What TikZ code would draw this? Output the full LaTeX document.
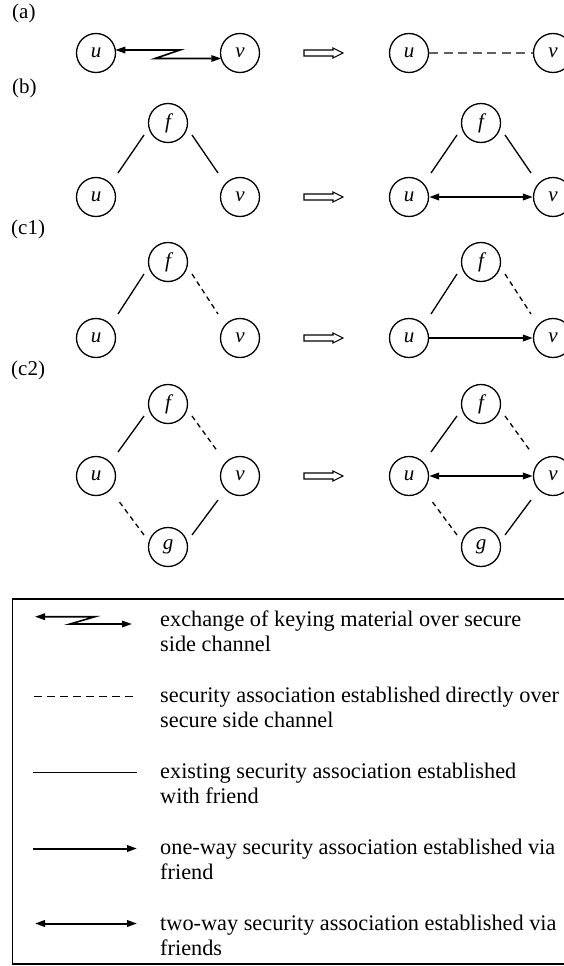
\documentclass[tikz,border=0pt]{standalone}
\usepackage{fontspec}
\setmainfont{Liberation Serif}
\usetikzlibrary{arrows.meta}
\newcommand{\lnUL}[3]{\draw[#1] ([shift={(-24,12)}]#2.center) -- ([shift={(22,-24)}]#3.center);}
\newcommand{\lnUR}[3]{\draw[#1] ([shift={(24,12)}]#2.center) -- ([shift={(-22,-24)}]#3.center);}
\newcommand{\lnDL}[3]{\draw[#1] ([shift={(-24,-12)}]#2.center) -- ([shift={(22,24)}]#3.center);}
\newcommand{\lnDR}[3]{\draw[#1] ([shift={(24,-12)}]#2.center) -- ([shift={(-22,24)}]#3.center);}
\newcommand{\implarrow}[1]{\draw[line width=1.1pt, fill=white, line join=miter]
  (304,{#1-3}) -- (333,{#1-3}) -- (333,{#1-5}) -- (343,{#1}) -- (333,{#1+5}) -- (333,{#1+3}) -- (304,{#1+3}) -- cycle;}
\begin{document}
\begin{tikzpicture}[x=1pt,y=-1pt,
  vtx/.style={draw, circle, minimum size=39pt, inner sep=0pt, line width=1.3pt,
    font=\fontsize{21}{24}\selectfont\itshape},
  lab/.style={anchor=base west, inner sep=0pt, font=\fontsize{21}{25}\selectfont},
  ltxt/.style={anchor=base west, inner sep=0pt, font=\fontsize{22.3}{25}\selectfont},
  thinln/.style={line width=1.3pt},
  dsh/.style={line width=1.3pt, dash pattern=on 5pt off 4pt},
  tipr/.style={-{Triangle[length=10pt,width=6.5pt]}},
  tipb/.style={{Triangle[length=10pt,width=6.5pt]}-{Triangle[length=10pt,width=6.5pt]}},
  thick arr/.style={line width=2pt},
  zig/.style={line width=1.6pt}
]
\clip (0,0) rectangle (564,966);
\fill[white] (0,0) rectangle (564,966);

% ---------- (a)
\node[lab] (la) at (12,18.5) {(a)};
\node[vtx] (ua) at (96,53) {u};
\node[vtx] (va) at (240,53) {v};
\node[vtx] (ua2) at (409,53) {u};
\node[vtx] (va2) at (553,53) {v};
\draw[zig, tipb] ([shift={(19.3,-3)}]ua.center) -- ++(64.7,0) -- ++(-25,8.5) -- ([shift={(-18.7,5.5)}]va.center);
\implarrow{53}
\draw[line width=1.7pt, gray!75!black, dash pattern=on 9pt off 5.5pt] (ua2) -- (va2);

% ---------- (b)
\node[lab] (lb) at (12,93.5) {(b)};
\node[vtx] (fb) at (168,123) {f};
\node[vtx] (ub) at (96,197) {u};
\node[vtx] (vb) at (240,197) {v};
\lnUL{thinln}{fb}{ub}
\lnUR{thinln}{fb}{vb}
\implarrow{197}
\node[vtx] (fb2) at (481,123) {f};
\node[vtx] (ub2) at (409,197) {u};
\node[vtx] (vb2) at (553,197) {v};
\lnUL{thinln}{fb2}{ub2}
\lnUR{thinln}{fb2}{vb2}
\draw[thick arr, tipb] (ub2) -- (vb2);

% ---------- (c1)
\node[lab] (lc) at (11,234.5) {(c1)};
\node[vtx] (fc) at (168,262) {f};
\node[vtx] (uc) at (96,338) {u};
\node[vtx] (vc) at (240,338) {v};
\lnUL{thinln}{fc}{uc}
\lnUR{dsh}{fc}{vc}
\implarrow{338}
\node[vtx] (fc2) at (481,262) {f};
\node[vtx] (uc2) at (409,338) {u};
\node[vtx] (vc2) at (553,338) {v};
\lnUL{thinln}{fc2}{uc2}
\lnUR{dsh}{fc2}{vc2}
\draw[thick arr, tipr] (uc2) -- (vc2);

% ---------- (c2)
\node[lab] (ld) at (11,375) {(c2)};
\node[vtx] (fd) at (168,404) {f};
\node[vtx] (ud) at (96,476) {u};
\node[vtx] (vd) at (240,476) {v};
\node[vtx] (gd) at (168,547) {g};
\lnUL{thinln}{fd}{ud}
\lnUR{dsh}{fd}{vd}
\lnDL{dsh}{gd}{ud}
\lnDR{thinln}{gd}{vd}
\implarrow{476}
\node[vtx] (fd2) at (481,404) {f};
\node[vtx] (ud2) at (409,476) {u};
\node[vtx] (vd2) at (553,476) {v};
\node[vtx] (gd2) at (481,547) {g};
\lnUL{thinln}{fd2}{ud2}
\lnUR{dsh}{fd2}{vd2}
\lnDL{dsh}{gd2}{ud2}
\lnDR{thinln}{gd2}{vd2}
\draw[thick arr, tipb] (ud2) -- (vd2);

% ---------- legend
\draw[line width=1.3pt] (12.7,599) rectangle (575,964);

\coordinate (k1a) at (35,616.7);
\coordinate (k1b) at (132,624);
\draw[zig, tipb] (k1a) -- (95,616.7) -- (70,624) -- (k1b);
\node[ltxt] (t1a) at (160,626.5) {exchange of keying material over secure};
\node[ltxt] (t1b) at (160,651.5) {side channel};

\coordinate (k2a) at (34,696.5);
\coordinate (k2b) at (134,696.5);
\draw[line width=1.3pt, dash pattern=on 8pt off 5pt] (k2a) -- (k2b);
\node[ltxt] (t2a) at (160,702.5) {security association established directly over};
\node[ltxt] (t2b) at (160,727.5) {secure side channel};

\coordinate (k3a) at (33,772.5);
\coordinate (k3b) at (137,772.5);
\draw[thinln] (k3a) -- (k3b);
\node[ltxt] (t3a) at (160,778.5) {existing security association established};
\node[ltxt] (t3b) at (160,803.5) {with friend};

\coordinate (k4a) at (33,848.5);
\coordinate (k4b) at (137,848.5);
\draw[thick arr, tipr] (k4a) -- (k4b);
\node[ltxt] (t4a) at (160,854.5) {one-way security association established via};
\node[ltxt] (t4b) at (160,879.5) {friend};

\coordinate (k5a) at (35,923.5);
\coordinate (k5b) at (137,923.5);
\draw[thick arr, tipb] (k5a) -- (k5b);
\node[ltxt] (t5a) at (160,930.5) {two-way security association established via};
\node[ltxt] (t5b) at (160,955.5) {friends};
\end{tikzpicture}
\end{document}
